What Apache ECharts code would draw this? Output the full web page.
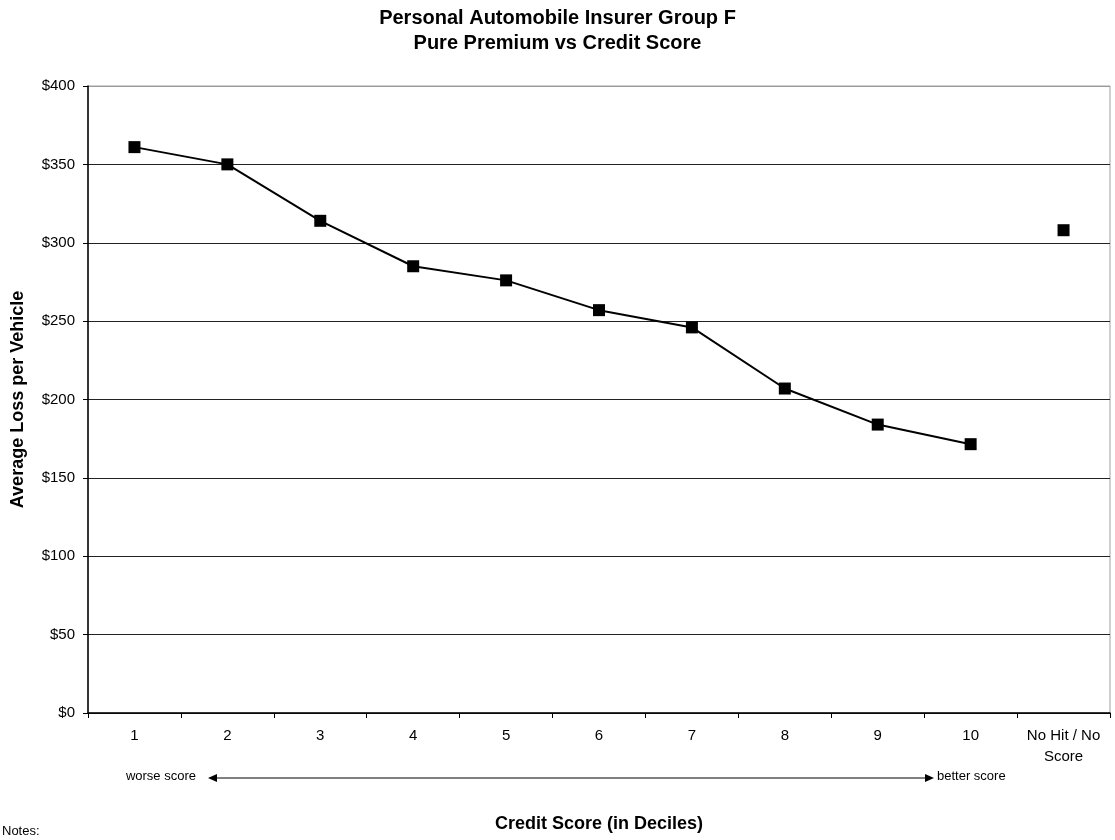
<!DOCTYPE html>
<html>
<head>
<meta charset="utf-8">
<style>
  html, body { margin: 0; padding: 0; background: #fff; }
  #chart { width: 1115px; height: 840px; }
</style>
<script src="https://cdn.jsdelivr.net/npm/echarts@6/dist/echarts.min.js"></script>
</head>
<body>
<div id="chart"></div>
<script>
// Credit score deciles and the separate "no hit" group
const categories = ['1', '2', '3', '4', '5', '6', '7', '8', '9', '10', 'No Hit / No\nScore'];
// Average loss per vehicle (USD) for deciles 1-10
const decileLoss = [361, 350, 314, 285, 276, 257, 246, 207, 184, 171.5];
// Average loss per vehicle (USD) for the no hit / no score group
const noHitLoss = 308;
// Value axis ticks
const yMin = 0, yMax = 400, yStep = 50;

const FONT = '"Liberation Sans", Arial, sans-serif';

const lineData = decileLoss.concat(['-']);
const noHitData = categories.map((c, i) => (i === categories.length - 1 ? noHitLoss : '-'));

// Split lines: dark everywhere except the top frame edge
const nLines = (yMax - yMin) / yStep + 1;
const splitColors = [];
for (let i = 0; i < nLines; i++) splitColors.push(i === nLines - 1 ? '#9a9a9a' : '#222');

const chart = echarts.init(document.getElementById('chart'), null, { renderer: 'canvas' });

const gridL = 88, gridR = 5, gridT = 86, gridB = 127;

chart.setOption({
  backgroundColor: '#fff',
  animation: false,
  textStyle: { fontFamily: FONT },
  title: {
    text: 'Personal Automobile Insurer Group F\nPure Premium vs Credit Score',
    left: 'center',
    top: 1,
    textStyle: { fontFamily: FONT, fontSize: 20, fontWeight: 'bold', color: '#000', lineHeight: 25 }
  },
  grid: {
    left: gridL, right: gridR, top: gridT, bottom: gridB,
    show: true, borderColor: '#a0a0a0', borderWidth: 1, backgroundColor: 'transparent'
  },
  xAxis: {
    type: 'category',
    data: categories,
    boundaryGap: true,
    name: 'Credit Score (in Deciles)',
    nameLocation: 'middle',
    nameGap: 102,
    nameTextStyle: { fontFamily: FONT, fontSize: 18, fontWeight: 'bold', color: '#000' },
    axisLine: { show: true, lineStyle: { color: '#000', width: 1.5 } },
    axisTick: { show: true, inside: false, length: 5, alignWithLabel: false, lineStyle: { color: '#000' } },
    axisLabel: { interval: 0, margin: 12, fontFamily: FONT, fontSize: 15, color: '#000', lineHeight: 21 },
    splitLine: { show: false }
  },
  yAxis: {
    type: 'value',
    min: yMin, max: yMax, interval: yStep,
    name: 'Average Loss per Vehicle',
    nameLocation: 'middle',
    nameRotate: 90,
    nameGap: 61,
    nameTextStyle: { fontFamily: FONT, fontSize: 18, fontWeight: 'bold', color: '#000' },
    axisLine: { show: true, lineStyle: { color: '#000', width: 1.5 } },
    axisTick: { show: true, inside: false, length: 5, lineStyle: { color: '#000' } },
    axisLabel: { formatter: v => '$' + v, margin: 13, fontFamily: FONT, fontSize: 15, color: '#000' },
    splitLine: { show: true, lineStyle: { color: splitColors, width: 1 } }
  },
  series: [
    {
      name: 'Deciles',
      type: 'line',
      data: lineData,
      symbol: 'rect',
      symbolSize: 12,
      itemStyle: { color: '#000' },
      lineStyle: { color: '#000', width: 2 },
      connectNulls: false,
      z: 3
    },
    {
      name: 'No Hit / No Score',
      type: 'line',
      data: noHitData,
      symbol: 'rect',
      symbolSize: 12,
      showAllSymbol: true,
      itemStyle: { color: '#000' },
      lineStyle: { width: 0 },
      z: 3
    }
  ],
  graphic: [
    // direction arrow beneath the decile labels
    { type: 'line', shape: { x1: 216, y1: 778, x2: 926, y2: 778 }, style: { stroke: '#808080', lineWidth: 2 } },
    { type: 'polygon', shape: { points: [[208, 778], [217, 774], [217, 782]] }, style: { fill: '#000' } },
    { type: 'polygon', shape: { points: [[934, 778], [925, 774], [925, 782]] }, style: { fill: '#000' } },
    { type: 'text', right: 1115 - 196, top: 770, style: { text: 'worse score', font: '13px ' + FONT, fill: '#000', textAlign: 'right' } },
    { type: 'text', left: 937, top: 770, style: { text: 'better score', font: '13px ' + FONT, fill: '#000' } },
    { type: 'text', left: 2, top: 825, style: { text: 'Notes:', font: '13px ' + FONT, fill: '#000' } }
  ]
});
</script>
</body>
</html>
